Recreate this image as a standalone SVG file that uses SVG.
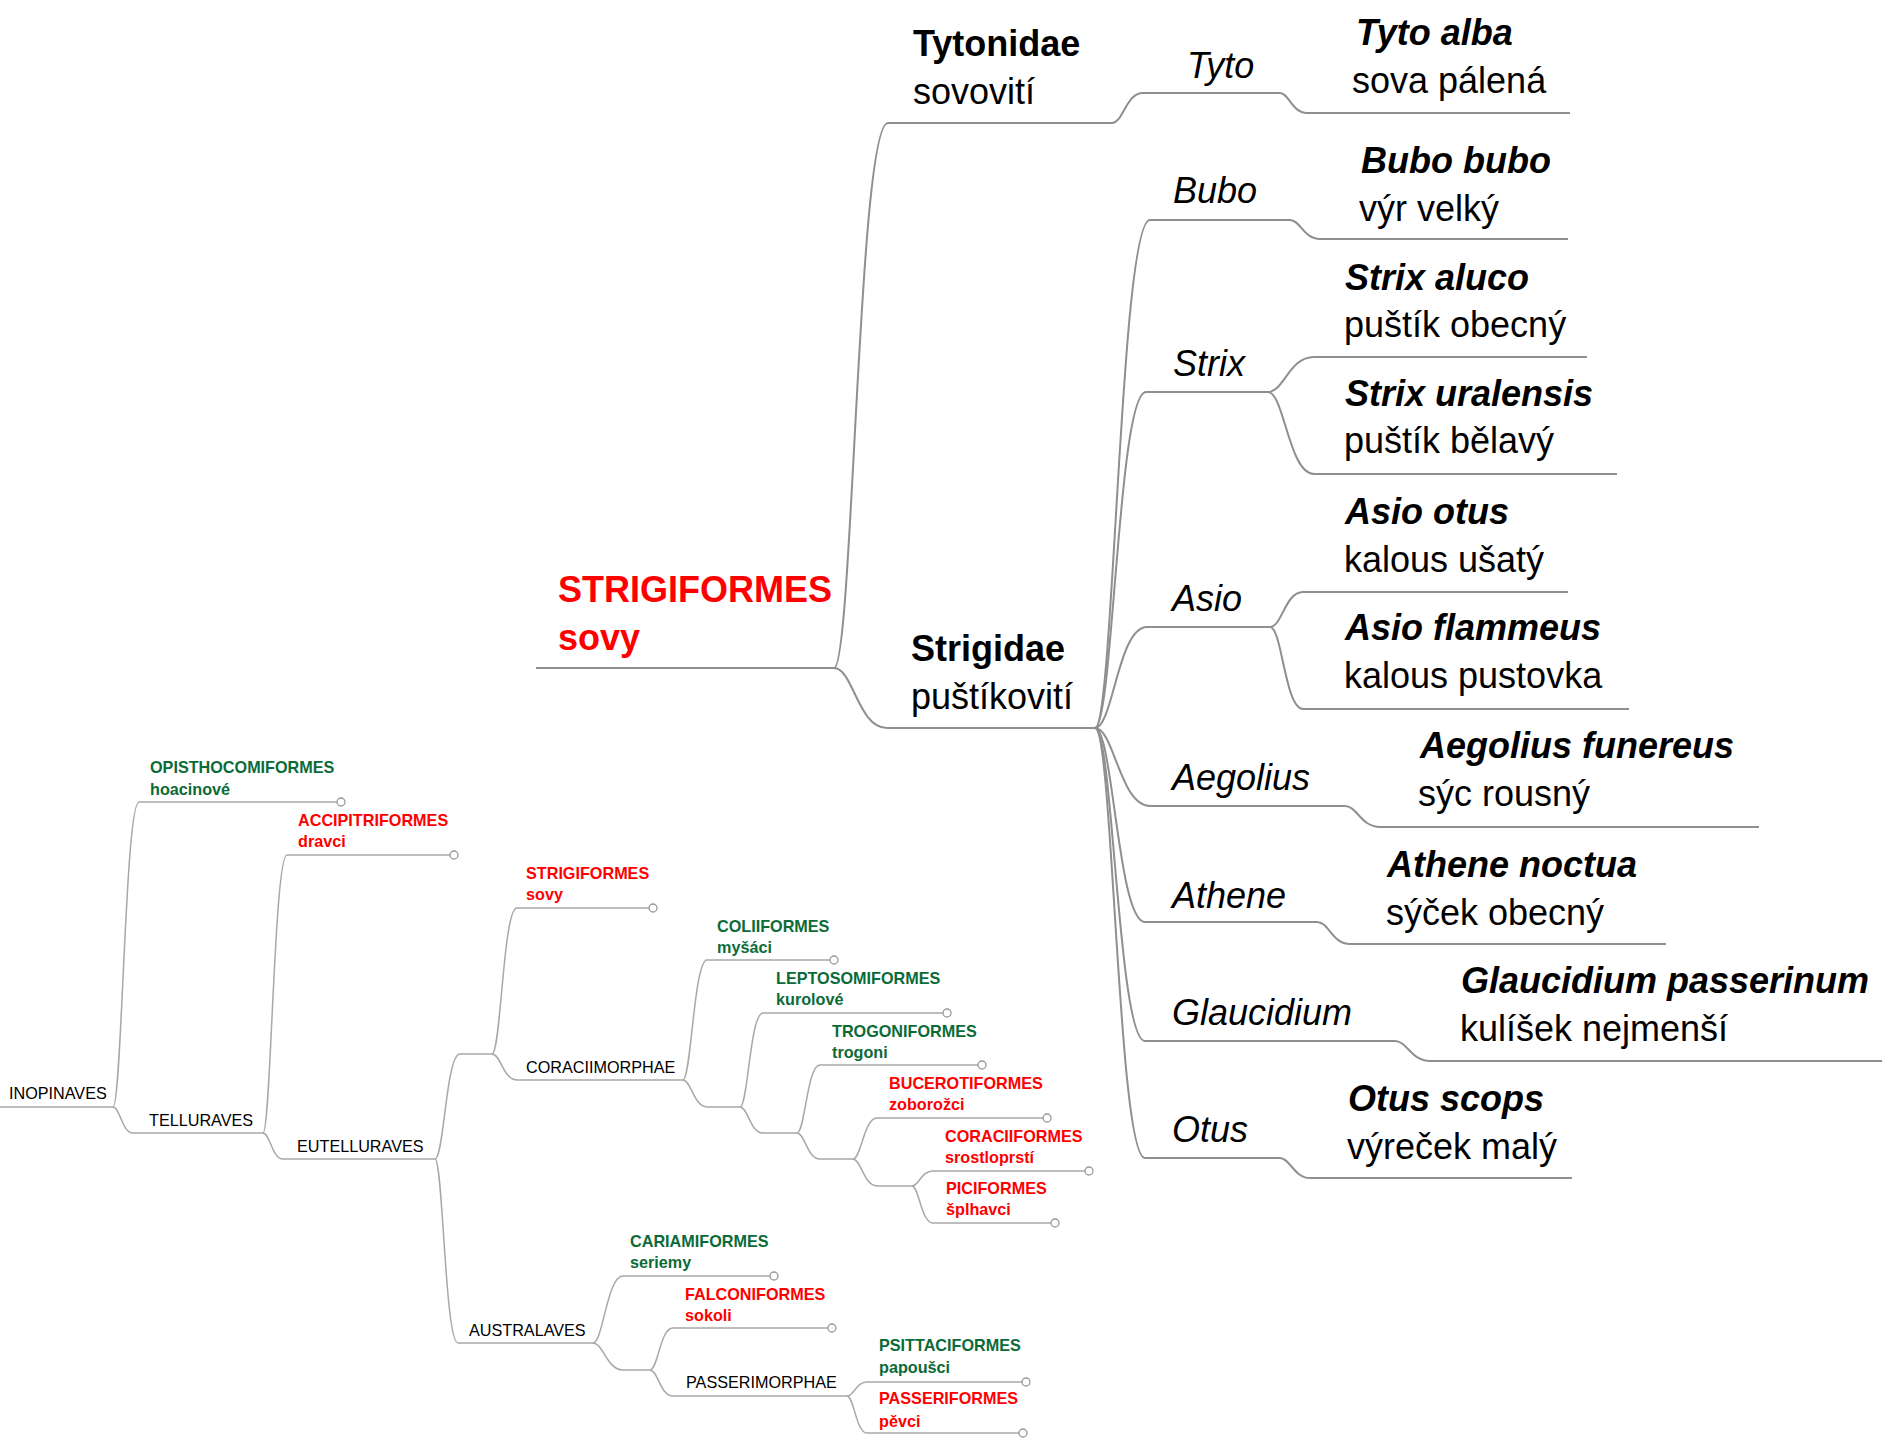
<svg xmlns="http://www.w3.org/2000/svg" width="1882" height="1440" viewBox="0 0 1882 1440">
<style>
text{font-family:"Liberation Sans",Arial,sans-serif;fill:#000}
.L{font-size:36px}
.S{font-size:16.2px}
.b{font-weight:bold}
.i{font-style:italic}
.bi{font-weight:bold;font-style:italic}
.red{fill:#f00}
.grn{fill:#0b6b38}
.big path{fill:none;stroke:#8f8f8f;stroke-width:2}
.small path{fill:none;stroke:#a8a8a8;stroke-width:1.5}
circle.end{fill:#fff;stroke:#999;stroke-width:1.3}
</style>
<rect width="1882" height="1440" fill="#fff"/>
<g id="connectors">
<g class="big">
<path d="M536,668 H834"/>
<path d="M834,668 C853,668 858,123 888,123 H1112"/>
<path d="M1112,123 C1123,123 1126,93 1143,93 H1280"/>
<path d="M1280,93 C1289,93 1292,113 1307,113 H1570"/>
<path d="M834,668 C853,668 858,728 887,728 H1095"/>
<path d="M1095,728 C1114,728 1120,220 1150,220 H1290"/>
<path d="M1290,220 C1300,220 1304,239 1320,239 H1568"/>
<path d="M1095,728 C1113,728 1118,392 1146,392 H1268"/>
<path d="M1268,392 C1284,392 1289,357 1314,357 H1587"/>
<path d="M1268,392 C1284,392 1289,474 1314,474 H1617"/>
<path d="M1095,728 C1113,728 1118,627 1147,627 H1270"/>
<path d="M1270,627 C1282,627 1285,592 1303,592 H1568"/>
<path d="M1270,627 C1282,627 1285,709 1303,709 H1629"/>
<path d="M1095,728 C1114,728 1120,806 1150,806 H1345"/>
<path d="M1345,806 C1357,806 1361,827 1380,827 H1759"/>
<path d="M1095,728 C1113,728 1118,922 1145,922 H1317"/>
<path d="M1317,922 C1329,922 1332,944 1350,944 H1666"/>
<path d="M1095,728 C1113,728 1118,1041 1145,1041 H1395"/>
<path d="M1395,1041 C1407,1041 1411,1061 1430,1061 H1882"/>
<path d="M1095,728 C1113,728 1118,1158 1145,1158 H1280"/>
<path d="M1280,1158 C1290,1158 1294,1178 1310,1178 H1572"/>
</g>
<g class="small">
<path d="M0,1107 H113"/>
<path d="M113,1107 C122,1107 125,802 139,802 H337"/>
<path d="M113,1107 C120,1107 122,1133 133,1133 H263"/>
<path d="M263,1133 C271,1133 274,855 287,855 H450"/>
<path d="M263,1133 C270,1133 272,1159 283,1159 H435"/>
<path d="M435,1159 C444,1159 446,1054 460,1054 H492"/>
<path d="M435,1159 C443,1159 445,1343 458,1343 H593"/>
<path d="M492,1054 C501,1054 503,908 517,908 H649"/>
<path d="M492,1054 C501,1054 503,1080 517,1080 H683"/>
<path d="M683,1080 C691,1080 694,960 707,960 H830"/>
<path d="M683,1080 C691,1080 694,1107 707,1107 H740"/>
<path d="M740,1107 C748,1107 750,1013 763,1013 H943"/>
<path d="M740,1107 C748,1107 750,1133 763,1133 H797"/>
<path d="M797,1133 C805,1133 807,1065 820,1065 H978"/>
<path d="M797,1133 C805,1133 807,1159 820,1159 H853"/>
<path d="M853,1159 C861,1159 864,1118 877,1118 H1043"/>
<path d="M853,1159 C861,1159 864,1186 877,1186 H912"/>
<path d="M912,1186 C919,1186 921,1171 933,1171 H1085"/>
<path d="M912,1186 C919,1186 921,1223 933,1223 H1051"/>
<path d="M593,1343 C603,1343 607,1276 623,1276 H770"/>
<path d="M593,1343 C603,1343 607,1370 623,1370 H650"/>
<path d="M650,1370 C658,1370 660,1328 673,1328 H828"/>
<path d="M650,1370 C658,1370 660,1396 673,1396 H847"/>
<path d="M847,1396 C854,1396 856,1382 867,1382 H1022"/>
<path d="M847,1396 C854,1396 856,1433 867,1433 H1019"/>
</g>
</g>

<g id="n-strigiformes-main"><text class="L b red" x="558" y="602">STRIGIFORMES</text><text class="L b red" x="558" y="650">sovy</text></g>
<g id="n-tytonidae"><text class="L b" x="913" y="56">Tytonidae</text><text class="L" x="913" y="104">sovovití</text></g>
<g id="n-strigidae"><text class="L b" x="911" y="661">Strigidae</text><text class="L" x="911" y="709">puštíkovití</text></g>
<g id="n-tyto"><text class="L i" x="1187" y="78">Tyto</text></g>
<g id="n-tyto-alba"><text class="L bi" x="1356" y="45">Tyto alba</text><text class="L" x="1352" y="93">sova pálená</text></g>
<g id="n-bubo"><text class="L i" x="1173" y="203">Bubo</text></g>
<g id="n-bubo-bubo"><text class="L bi" x="1361" y="173">Bubo bubo</text><text class="L" x="1359" y="221">výr velký</text></g>
<g id="n-strix"><text class="L i" x="1173" y="376">Strix</text></g>
<g id="n-strix-aluco"><text class="L bi" x="1345" y="290">Strix aluco</text><text class="L" x="1344" y="337">puštík obecný</text></g>
<g id="n-strix-uralensis"><text class="L bi" x="1345" y="406">Strix uralensis</text><text class="L" x="1344" y="453">puštík bělavý</text></g>
<g id="n-asio"><text class="L i" x="1172" y="611">Asio</text></g>
<g id="n-asio-otus"><text class="L bi" x="1345" y="524">Asio otus</text><text class="L" x="1344" y="572">kalous ušatý</text></g>
<g id="n-asio-flammeus"><text class="L bi" x="1345" y="640">Asio flammeus</text><text class="L" x="1344" y="688">kalous pustovka</text></g>
<g id="n-aegolius"><text class="L i" x="1172" y="790">Aegolius</text></g>
<g id="n-aegolius-funereus"><text class="L bi" x="1420" y="758">Aegolius funereus</text><text class="L" x="1418" y="806">sýc rousný</text></g>
<g id="n-athene"><text class="L i" x="1172" y="908">Athene</text></g>
<g id="n-athene-noctua"><text class="L bi" x="1387" y="877">Athene noctua</text><text class="L" x="1386" y="925">sýček obecný</text></g>
<g id="n-glaucidium"><text class="L i" x="1172" y="1025">Glaucidium</text></g>
<g id="n-glaucidium-passerinum"><text class="L bi" x="1461" y="993">Glaucidium passerinum</text><text class="L" x="1460" y="1041">kulíšek nejmenší</text></g>
<g id="n-otus"><text class="L i" x="1172" y="1142">Otus</text></g>
<g id="n-otus-scops"><text class="L bi" x="1348" y="1111">Otus scops</text><text class="L" x="1347" y="1159">výreček malý</text></g>

<g id="n-inopinaves"><text class="S" x="9" y="1099">INOPINAVES</text></g>
<g id="n-opisthocomiformes"><text class="S b grn" x="150" y="773">OPISTHOCOMIFORMES</text><text class="S b grn" x="150" y="795">hoacinové</text><circle class="end" cx="341" cy="802" r="4"/></g>
<g id="n-telluraves"><text class="S" x="149" y="1126">TELLURAVES</text></g>
<g id="n-accipitriformes"><text class="S b red" x="298" y="826">ACCIPITRIFORMES</text><text class="S b red" x="298" y="847">dravci</text><circle class="end" cx="454" cy="855" r="4"/></g>
<g id="n-eutelluraves"><text class="S" x="297" y="1152">EUTELLURAVES</text></g>
<g id="n-strigiformes"><text class="S b red" x="526" y="879">STRIGIFORMES</text><text class="S b red" x="526" y="900">sovy</text><circle class="end" cx="653" cy="908" r="4"/></g>
<g id="n-coraciimorphae"><text class="S" x="526" y="1073">CORACIIMORPHAE</text></g>
<g id="n-coliiformes"><text class="S b grn" x="717" y="932">COLIIFORMES</text><text class="S b grn" x="717" y="953">myšáci</text><circle class="end" cx="834" cy="960" r="4"/></g>
<g id="n-leptosomiformes"><text class="S b grn" x="776" y="984">LEPTOSOMIFORMES</text><text class="S b grn" x="776" y="1005">kurolové</text><circle class="end" cx="947" cy="1013" r="4"/></g>
<g id="n-trogoniformes"><text class="S b grn" x="832" y="1037">TROGONIFORMES</text><text class="S b grn" x="832" y="1058">trogoni</text><circle class="end" cx="982" cy="1065" r="4"/></g>
<g id="n-bucerotiformes"><text class="S b red" x="889" y="1089">BUCEROTIFORMES</text><text class="S b red" x="889" y="1110">zoborožci</text><circle class="end" cx="1047" cy="1118" r="4"/></g>
<g id="n-coraciiformes"><text class="S b red" x="945" y="1142">CORACIIFORMES</text><text class="S b red" x="945" y="1163">srostloprstí</text><circle class="end" cx="1089" cy="1171" r="4"/></g>
<g id="n-piciformes"><text class="S b red" x="946" y="1194">PICIFORMES</text><text class="S b red" x="946" y="1215">šplhavci</text><circle class="end" cx="1055" cy="1223" r="4"/></g>
<g id="n-australaves"><text class="S" x="469" y="1336">AUSTRALAVES</text></g>
<g id="n-cariamiformes"><text class="S b grn" x="630" y="1247">CARIAMIFORMES</text><text class="S b grn" x="630" y="1268">seriemy</text><circle class="end" cx="774" cy="1276" r="4"/></g>
<g id="n-falconiformes"><text class="S b red" x="685" y="1300">FALCONIFORMES</text><text class="S b red" x="685" y="1321">sokoli</text><circle class="end" cx="832" cy="1328" r="4"/></g>
<g id="n-passerimorphae"><text class="S" x="686" y="1388">PASSERIMORPHAE</text></g>
<g id="n-psittaciformes"><text class="S b grn" x="879" y="1351">PSITTACIFORMES</text><text class="S b grn" x="879" y="1373">papoušci</text><circle class="end" cx="1026" cy="1382" r="4"/></g>
<g id="n-passeriformes"><text class="S b red" x="879" y="1404">PASSERIFORMES</text><text class="S b red" x="879" y="1427">pěvci</text><circle class="end" cx="1023" cy="1433" r="4"/></g>
</svg>
